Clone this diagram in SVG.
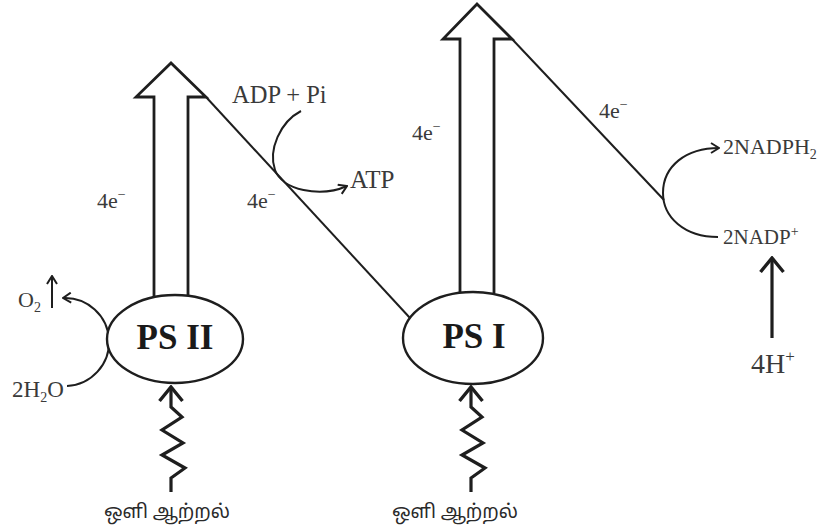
<svg xmlns="http://www.w3.org/2000/svg" width="835" height="529" viewBox="0 0 835 529">
<style>
.lbl{font-family:"Liberation Serif","Times New Roman",serif;fill:#3a3a3a;font-size:22px}
.ps{font-family:"Liberation Serif","Times New Roman",serif;font-weight:bold;font-size:35px;fill:#1a1a1a}
.ln{fill:none;stroke:#1e1e1e;stroke-width:2}
.big{fill:#fff;stroke:#1e1e1e;stroke-width:2.8;stroke-linejoin:miter}
.el{fill:#fff;stroke:#1e1e1e;stroke-width:2.4}
.zz{fill:none;stroke:#1e1e1e;stroke-width:3.2;stroke-linejoin:miter}
.ta{font-family:"Noto Sans Tamil","Noto Serif Tamil","Lohit Tamil",Latha,sans-serif;font-size:19px;fill:#2a2a2a}
.sub{font-size:14px}
</style>
<defs>
<marker id="oa" viewBox="0 0 10 12" refX="9" refY="6" markerWidth="10" markerHeight="12" orient="auto" markerUnits="userSpaceOnUse">
<path d="M1,1 L9,6 L1,11" fill="none" stroke="#1e1e1e" stroke-width="2"/>
</marker>
<marker id="tk" viewBox="0 0 30 30" refX="28" refY="15" markerWidth="30" markerHeight="30" orient="auto" markerUnits="userSpaceOnUse">
<path d="M14,3.5 L28,15 L14,26.5" fill="none" stroke="#1e1e1e" stroke-width="3.4"/>
</marker>
</defs>

<g id="connectors">
<path class="big" d="M154,297 L154,97 L136,97 L171,63 L206,97 L188,97 L188,297"/>
<path class="big" d="M460,293 L460,39 L443,39 L477,4 L512,39 L494,39 L494,293"/>
<line class="ln" x1="206" y1="97" x2="410" y2="318"/>
<line class="ln" x1="512" y1="39" x2="664" y2="200"/>
<path class="ln" d="M67,386 A44,44 0 0 0 63,298" marker-end="url(#oa)"/>
<line class="ln" x1="52" y1="308" x2="52" y2="276" marker-end="url(#oa)"/>
<path class="ln" d="M301,111 C280,122 268,150 275,170 C282,190 320,198 347,186" marker-end="url(#oa)"/>
<path class="ln" d="M718,237 C684,237 663,217 663,193 C663,166 686,148 719,148" marker-end="url(#oa)"/>
<line class="zz" x1="772" y1="338" x2="772" y2="258" marker-end="url(#tk)"/>
<polyline class="zz" points="171,492 171,478 185,468 162,455 183,443 162,430 182,417 171,407 171,387" marker-end="url(#tk)"/>
<polyline class="zz" points="471,492 471,478 485,468 462,455 483,443 462,430 482,417 471,407 471,387" marker-end="url(#tk)"/>
</g>

<g id="psii">
<ellipse class="el" cx="175" cy="339" rx="68" ry="44"/>
<text class="ps" x="175" y="349" text-anchor="middle">PS II</text>
</g>

<g id="psi">
<ellipse class="el" cx="473" cy="338" rx="70" ry="46"/>
<text class="ps" x="474" y="348" text-anchor="middle">PS I</text>
</g>

<g id="labels">
<text class="lbl" x="18" y="307">O<tspan class="sub" dy="5">2</tspan></text>
<text class="lbl" x="12" y="397" style="font-size:23px">2H<tspan class="sub" dy="5">2</tspan><tspan dy="-5">O</tspan></text>
<text class="lbl" x="97" y="208">4e<tspan class="sub" dy="-9">−</tspan></text>
<text class="lbl" x="247" y="208">4e<tspan class="sub" dy="-9">−</tspan></text>
<text class="lbl" x="412" y="140">4e<tspan class="sub" dy="-9">−</tspan></text>
<text class="lbl" x="599" y="118">4e<tspan class="sub" dy="-9">−</tspan></text>
<text class="lbl" x="232" y="103" style="font-size:24.5px">ADP + Pi</text>
<text class="lbl" x="350" y="188" style="font-size:25px">ATP</text>
<text class="lbl" x="723" y="154" style="font-size:22px">2NADPH<tspan class="sub" dy="5">2</tspan></text>
<text class="lbl" x="723" y="244" style="font-size:21px">2NADP<tspan class="sub" dy="-8">+</tspan></text>
<text class="lbl" x="751" y="373" style="font-size:28px">4H<tspan class="sub" style="font-size:17px" dy="-11">+</tspan></text>
</g>

<g id="light">
<text class="ta" x="167" y="518" text-anchor="middle">ஒளி ஆற்றல்</text>
<text class="ta" x="455" y="518" text-anchor="middle">ஒளி ஆற்றல்</text>
</g>
</svg>
